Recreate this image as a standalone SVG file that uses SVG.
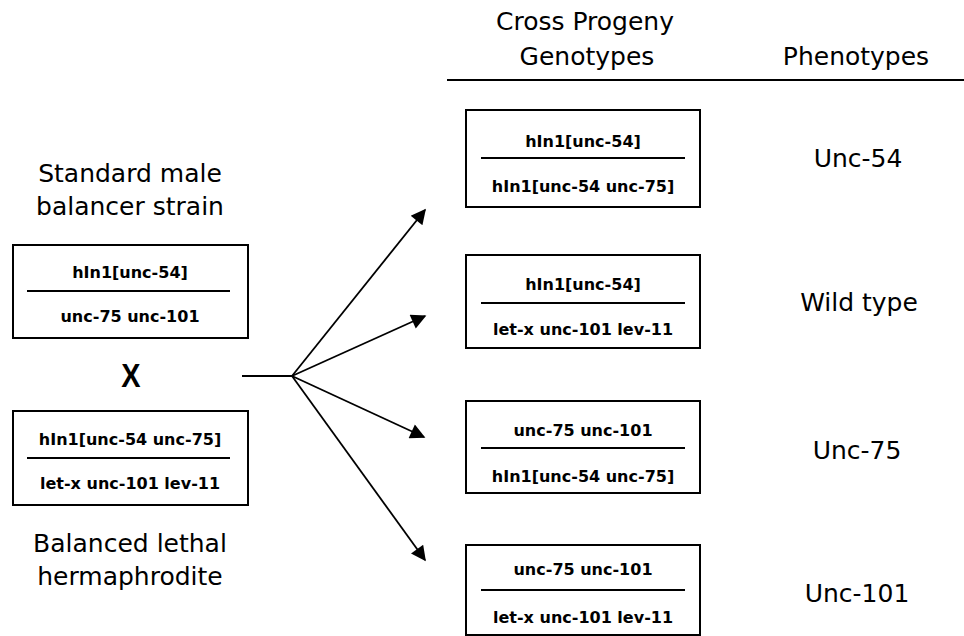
<svg xmlns="http://www.w3.org/2000/svg" width="964" height="636" viewBox="0 0 964 636">
<defs>
<style>
.lbl{font-family:"DejaVu Sans","Liberation Sans",sans-serif;font-size:25px;fill:#000;text-anchor:middle}
.g{font-family:"DejaVu Sans","Liberation Sans",sans-serif;font-size:16px;font-weight:bold;fill:#000;text-anchor:middle}
.box{fill:#fff;stroke:#000;stroke-width:2}
.div{stroke:#000;stroke-width:2}
.arr{stroke:#000;stroke-width:1.8;fill:none}
</style>
<marker id="ah" viewBox="0 0 10 10" refX="9" refY="5" markerWidth="18" markerHeight="15" markerUnits="userSpaceOnUse" orient="auto">
<path d="M0,0 L10,5 L0,10 z" fill="#000"/>
</marker>
</defs>
<rect width="964" height="636" fill="#fff"/>

<g id="headers">
<text class="lbl" x="585" y="30">Cross Progeny</text>
<text class="lbl" x="587" y="65">Genotypes</text>
<text class="lbl" x="856" y="65">Phenotypes</text>
<line x1="447" y1="80" x2="964" y2="80" class="div"/>
</g>

<g id="label-male">
<text class="lbl" x="130" y="182">Standard male</text>
<text class="lbl" x="130" y="215">balancer strain</text>
</g>

<g id="male">
<rect class="box" x="13" y="245" width="235" height="93"/>
<line class="div" x1="27" y1="291" x2="230" y2="291"/>
<text class="g" x="130" y="278">hIn1[unc-54]</text>
<text class="g" x="130" y="322">unc-75 unc-101</text>
</g>

<g id="cross">
<text x="131" y="387" font-family="Liberation Sans,Arial,sans-serif" font-weight="bold" font-size="34" text-anchor="middle" transform="translate(131 387) scale(0.85 1) translate(-131 -387)">X</text>
</g>

<g id="herm">
<rect class="box" x="13" y="411" width="235" height="94"/>
<line class="div" x1="27" y1="458" x2="230" y2="458"/>
<text class="g" x="130" y="445">hIn1[unc-54 unc-75]</text>
<text class="g" x="130" y="489">let-x unc-101 lev-11</text>
</g>

<g id="label-herm">
<text class="lbl" x="130" y="552">Balanced lethal</text>
<text class="lbl" x="130" y="585">hermaphrodite</text>
</g>

<g id="connectors">
<line class="arr" x1="242" y1="376" x2="292" y2="376"/>
<line class="arr" x1="292" y1="376" x2="425" y2="210" marker-end="url(#ah)"/>
<line class="arr" x1="292" y1="376" x2="425" y2="316" marker-end="url(#ah)"/>
<line class="arr" x1="292" y1="376" x2="424" y2="437" marker-end="url(#ah)"/>
<line class="arr" x1="292" y1="376" x2="425" y2="560" marker-end="url(#ah)"/>
</g>

<g id="prog1">
<rect class="box" x="466" y="110" width="234" height="97"/>
<line class="div" x1="481" y1="158" x2="685" y2="158"/>
<text class="g" x="583" y="147">hIn1[unc-54]</text>
<text class="g" x="583" y="192">hIn1[unc-54 unc-75]</text>
</g>

<g id="prog2">
<rect class="box" x="466" y="255" width="234" height="93"/>
<line class="div" x1="481" y1="303" x2="685" y2="303"/>
<text class="g" x="583" y="290">hIn1[unc-54]</text>
<text class="g" x="583" y="335">let-x unc-101 lev-11</text>
</g>

<g id="prog3">
<rect class="box" x="466" y="401" width="234" height="92"/>
<line class="div" x1="481" y1="448" x2="685" y2="448"/>
<text class="g" x="583" y="436">unc-75 unc-101</text>
<text class="g" x="583" y="482">hIn1[unc-54 unc-75]</text>
</g>

<g id="prog4">
<rect class="box" x="466" y="545" width="234" height="90"/>
<line class="div" x1="481" y1="590" x2="685" y2="590"/>
<text class="g" x="583" y="575">unc-75 unc-101</text>
<text class="g" x="583" y="623">let-x unc-101 lev-11</text>
</g>

<g id="phenotypes">
<text class="lbl" x="858" y="167">Unc-54</text>
<text class="lbl" x="859" y="311">Wild type</text>
<text class="lbl" x="857" y="459">Unc-75</text>
<text class="lbl" x="857" y="602">Unc-101</text>
</g>
</svg>
